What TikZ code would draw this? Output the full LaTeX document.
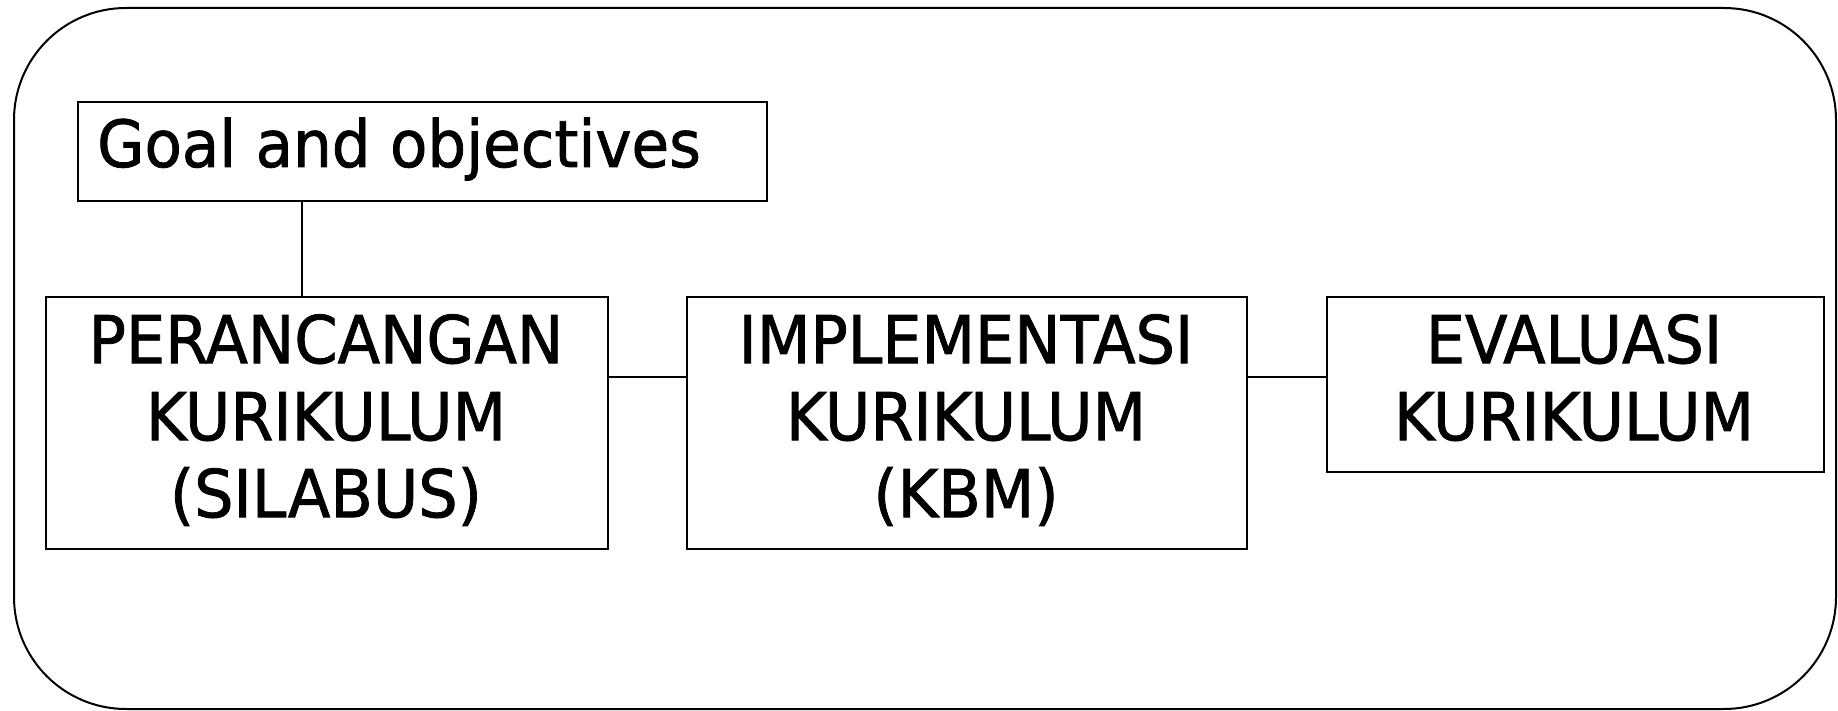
\documentclass[tikz,border=0pt]{standalone}
\usepackage{fontspec}
\setmainfont{DejaVu Sans Condensed}[FakeBold=1.2,FakeStretch=1.045]
\begin{document}
\begin{tikzpicture}[x=1pt,y=-1pt,
  box/.style={draw,line width=2pt,inner sep=0pt,anchor=north west},
  bigtext/.style={inner sep=0pt,align=center,anchor=north,font=\fontsize{66}{77}\selectfont},
  conn/.style={line width=2pt}]
\useasboundingbox (0,0) rectangle (1838,711);
\draw[line width=2pt,rounded corners=112pt] (14,8) rectangle (1836,709);
% boxes
\node[box,minimum width=689pt,minimum height=99pt] (goal) at (77,101) {};
\node[box,minimum width=562pt,minimum height=252pt] (perc) at (45,296) {};
\node[box,minimum width=560pt,minimum height=252pt] (impl) at (686,296) {};
\node[box,minimum width=497pt,minimum height=175pt] (eval) at (1326,296) {};
% texts
\node[inner sep=0pt,anchor=base west,font=\fontsize{65}{77}\selectfont] (gtxt) at (97,167) {Goal and objectives};
\node[bigtext] (ptxt) at (326,314) {PERANCANGAN\\KURIKULUM\\(SILABUS)};
\node[bigtext] (itxt) at (966,314) {IMPLEMENTASI\\KURIKULUM\\(KBM)};
\node[bigtext] (etxt) at (1574,314) {EVALUASI\\KURIKULUM};
% connectors
\draw[conn] ([xshift=225pt]goal.south west) -- ([xshift=225pt]goal.south west |- perc.north);
\draw[conn] ([yshift=-81pt]perc.north east) -- ([yshift=-81pt]perc.north east -| impl.west);
\draw[conn] ([yshift=-81pt]impl.north east) -- ([yshift=-81pt]impl.north east -| eval.west);
\end{tikzpicture}
\end{document}
